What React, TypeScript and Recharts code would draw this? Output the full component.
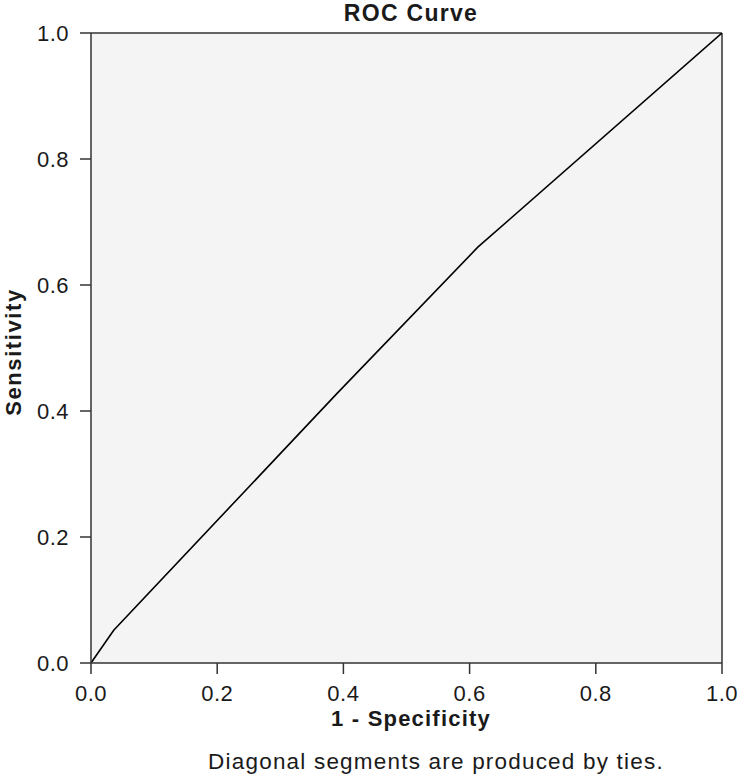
import React from 'react';
import { LineChart, Line, XAxis, YAxis, CartesianGrid, ReferenceLine } from 'recharts';

const chartTitle = 'ROC Curve';
const xAxisTitle = '1 - Specificity';
const yAxisTitle = 'Sensitivity';
const footnote = 'Diagonal segments are produced by ties.';

const fprValues = [0, 0.036, 0.39, 0.613, 1];
const tprValues = [0, 0.052, 0.428, 0.66, 1];

const xTicks = [0, 0.2, 0.4, 0.6, 0.8, 1];
const yTicks = [0, 0.2, 0.4, 0.6, 0.8, 1];

const data = fprValues.map((x, i) => ({ fpr: x, tpr: tprValues[i] }));

const FONT = '"Liberation Sans", Arial, Helvetica, sans-serif';
const TEXT = '#1a1a1a';
const AXIS = '#333333';

export default function App() {
  return (
    <div style={{ position: 'absolute', left: 0, top: 0, width: 740, height: 776, background: '#fff' }}>
      <LineChart
        width={740}
        height={776}
        data={data}
        margin={{ top: 33, right: 18, bottom: 0, left: 0 }}
      >
        <CartesianGrid fill="#f4f4f4" horizontal={false} vertical={false} />
        <XAxis
          dataKey="fpr"
          type="number"
          domain={[0, 1]}
          ticks={xTicks}
          tickFormatter={(v: number) => v.toFixed(1)}
          height={113}
          tickSize={11}
          tickMargin={11}
          axisLine={{ stroke: AXIS, strokeWidth: 1.5 }}
          tickLine={{ stroke: AXIS, strokeWidth: 1.5 }}
          tick={{ fill: TEXT, fontSize: 22, fontFamily: FONT, letterSpacing: 0.5 }}
          allowDataOverflow
        />
        <YAxis
          type="number"
          domain={[0, 1]}
          ticks={yTicks}
          tickFormatter={(v: number) => v.toFixed(1)}
          width={91}
          tickSize={11}
          tickMargin={11}
          axisLine={{ stroke: AXIS, strokeWidth: 1.5 }}
          tickLine={{ stroke: AXIS, strokeWidth: 1.5 }}
          tick={{ fill: TEXT, fontSize: 22, fontFamily: FONT, letterSpacing: 0.5 }}
          allowDataOverflow
        />
        <ReferenceLine y={1} stroke={AXIS} strokeWidth={1.5} />
        <ReferenceLine x={1} stroke={AXIS} strokeWidth={1.5} />
        <Line
          type="linear"
          dataKey="tpr"
          stroke="#000"
          strokeWidth={1.6}
          dot={false}
          activeDot={false}
          isAnimationActive={false}
        />
      </LineChart>
      <svg
        width={740}
        height={776}
        style={{ position: 'absolute', left: 0, top: 0, pointerEvents: 'none' }}
      >
        <text x={411} y={21} textAnchor="middle" fontFamily={FONT} fontWeight="bold" fontSize={23} letterSpacing={1.3} fill={TEXT}>
          {chartTitle}
        </text>
        <text x={411} y={726} textAnchor="middle" fontFamily={FONT} fontWeight="bold" fontSize={22} letterSpacing={1.2} fill={TEXT}>
          {xAxisTitle}
        </text>
        <text
          transform="translate(21,352) rotate(-90)"
          textAnchor="middle"
          fontFamily={FONT}
          fontWeight="bold"
          fontSize={22}
          letterSpacing={1.6}
          fill={TEXT}
        >
          {yAxisTitle}
        </text>
        <text x={436} y={769} textAnchor="middle" fontFamily={FONT} fontSize={22.5} letterSpacing={1.2} fill={TEXT}>
          {footnote}
        </text>
      </svg>
    </div>
  );
}
